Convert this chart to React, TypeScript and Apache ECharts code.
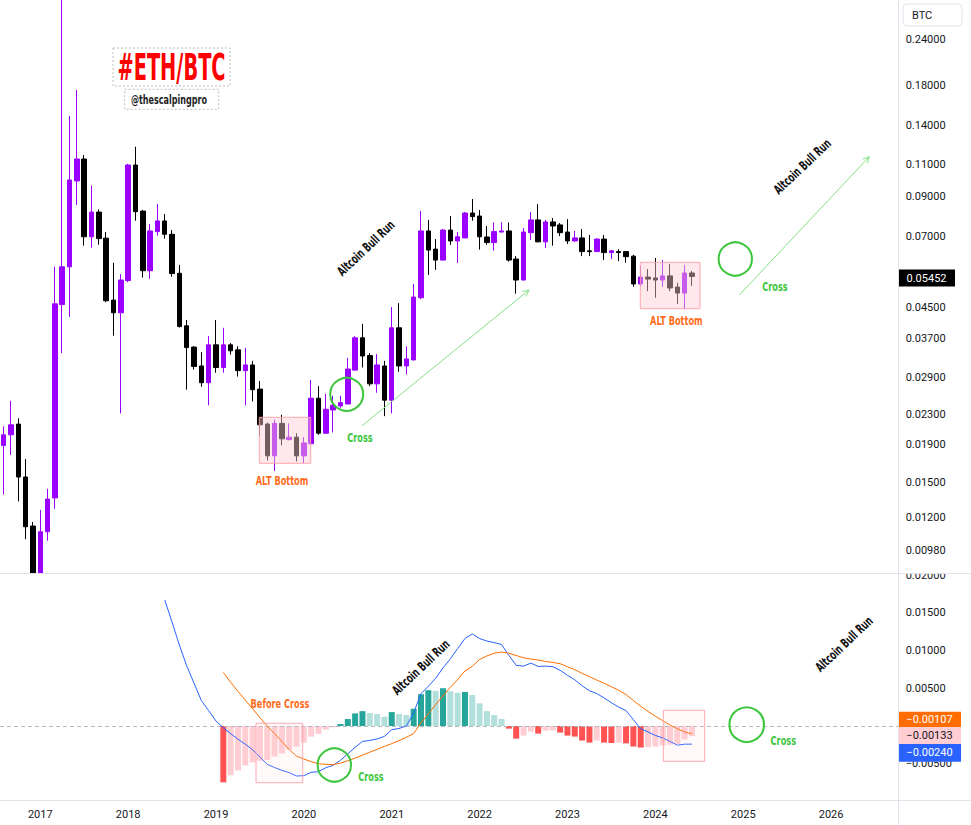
import React, { useEffect, useRef } from 'react';
import * as echarts from 'echarts';

// ---------- DATA ----------
// Monthly categories, Aug 2016 .. Oct 2026 (123 slots; candles exist up to Jun 2024)
const months: string[] = Array.from({ length: 123 }, (_, k) => {
  const t = 7 + k;
  const y = 2016 + Math.floor(t / 12);
  const m = (t % 12) + 1;
  return `${y}-${String(m).padStart(2, '0')}`;
});

// ETH/BTC monthly candles: [open, close, low, high]
const candles: number[][] = [
  [0.0189, 0.0202, 0.0139, 0.0213],
  [0.0202, 0.0215, 0.0178, 0.025],
  [0.0216, 0.0155, 0.0133, 0.0224],
  [0.0155, 0.01135, 0.0105, 0.01735],
  [0.0114, 0.0083, 0.0072, 0.0117],
  [0.0083, 0.011, 0.0075, 0.0126],
  [0.011, 0.0135, 0.0104, 0.0144],
  [0.0136, 0.0459, 0.0127, 0.0579],
  [0.0457, 0.0579, 0.0337, 0.34],
  [0.0579, 0.0998, 0.0423, 0.149],
  [0.0992, 0.1138, 0.0853, 0.1754],
  [0.1138, 0.0699, 0.0661, 0.1167],
  [0.0699, 0.0816, 0.0653, 0.0963],
  [0.0816, 0.0691, 0.0665, 0.083],
  [0.0693, 0.0468, 0.0464, 0.072],
  [0.047, 0.0434, 0.0376, 0.0594],
  [0.0434, 0.0533, 0.0231, 0.0553],
  [0.0531, 0.1096, 0.0526, 0.1104],
  [0.1096, 0.0818, 0.0773, 0.1229],
  [0.0821, 0.0565, 0.0541, 0.0827],
  [0.0565, 0.0725, 0.0537, 0.0757],
  [0.0722, 0.0772, 0.0704, 0.0858],
  [0.0772, 0.071, 0.0691, 0.0806],
  [0.071, 0.0555, 0.0544, 0.0729],
  [0.0556, 0.0398, 0.0396, 0.0586],
  [0.04, 0.0349, 0.0268, 0.0415],
  [0.035, 0.031, 0.0304, 0.0352],
  [0.0311, 0.028, 0.0273, 0.0339],
  [0.028, 0.0355, 0.0243, 0.0375],
  [0.0355, 0.0308, 0.0298, 0.0415],
  [0.0308, 0.0355, 0.0298, 0.0395],
  [0.0355, 0.0342, 0.0334, 0.0359],
  [0.0344, 0.0302, 0.0291, 0.0352],
  [0.0302, 0.0313, 0.0243, 0.0348],
  [0.0313, 0.0268, 0.0249, 0.0321],
  [0.0269, 0.0215, 0.02, 0.0283],
  [0.0216, 0.0177, 0.0172, 0.0218],
  [0.0177, 0.0217, 0.0161, 0.0222],
  [0.0217, 0.0197, 0.0189, 0.0229],
  [0.0196, 0.0199, 0.0195, 0.0217],
  [0.0199, 0.0177, 0.0171, 0.0204],
  [0.0177, 0.0192, 0.0169, 0.0199],
  [0.0191, 0.0254, 0.019, 0.0285],
  [0.0254, 0.0204, 0.0202, 0.0274],
  [0.0204, 0.0237, 0.0203, 0.0261],
  [0.0236, 0.0243, 0.0205, 0.0258],
  [0.0242, 0.0247, 0.0239, 0.0258],
  [0.0245, 0.0305, 0.0245, 0.0327],
  [0.0303, 0.0371, 0.0302, 0.0375],
  [0.0371, 0.0331, 0.0308, 0.0405],
  [0.0332, 0.0278, 0.0274, 0.0337],
  [0.0278, 0.0313, 0.0263, 0.0335],
  [0.0311, 0.0251, 0.0227, 0.0321],
  [0.0251, 0.0395, 0.0231, 0.045],
  [0.0395, 0.0311, 0.03, 0.0461],
  [0.0311, 0.0325, 0.0295, 0.0352],
  [0.0323, 0.0479, 0.0322, 0.052],
  [0.0477, 0.0725, 0.0473, 0.0822],
  [0.0725, 0.0643, 0.055, 0.0777],
  [0.0647, 0.0604, 0.0568, 0.0689],
  [0.0604, 0.0729, 0.0603, 0.0734],
  [0.0729, 0.0681, 0.0664, 0.0796],
  [0.0681, 0.0699, 0.0593, 0.072],
  [0.0694, 0.0811, 0.0693, 0.0816],
  [0.0811, 0.0793, 0.0773, 0.0886],
  [0.0796, 0.0699, 0.0645, 0.0827],
  [0.0698, 0.0674, 0.0665, 0.0748],
  [0.0674, 0.0722, 0.0641, 0.0765],
  [0.072, 0.0725, 0.0719, 0.0766],
  [0.0725, 0.0604, 0.0598, 0.0765],
  [0.0608, 0.0533, 0.0489, 0.0619],
  [0.0533, 0.072, 0.0532, 0.0738],
  [0.0717, 0.0777, 0.0685, 0.0816],
  [0.0777, 0.0677, 0.0676, 0.0858],
  [0.0677, 0.0767, 0.0651, 0.0777],
  [0.0767, 0.0748, 0.0661, 0.0786],
  [0.0753, 0.0717, 0.0702, 0.0762],
  [0.072, 0.0681, 0.0668, 0.0781],
  [0.0681, 0.0694, 0.0677, 0.0725],
  [0.0694, 0.0637, 0.0619, 0.0734],
  [0.064, 0.0637, 0.0619, 0.0707],
  [0.0637, 0.0689, 0.0635, 0.0692],
  [0.0689, 0.0633, 0.0604, 0.0707],
  [0.0633, 0.064, 0.0608, 0.0643],
  [0.0637, 0.0633, 0.06, 0.0647],
  [0.0637, 0.0617, 0.0594, 0.0639],
  [0.0619, 0.052, 0.0511, 0.0624],
  [0.052, 0.0543, 0.0511, 0.0582],
  [0.0543, 0.0536, 0.0497, 0.0571],
  [0.054, 0.0533, 0.0477, 0.0612],
  [0.0533, 0.0547, 0.0511, 0.0604],
  [0.0547, 0.0507, 0.0497, 0.059],
  [0.051, 0.0491, 0.0459, 0.0524],
  [0.0491, 0.0557, 0.0444, 0.0586],
  [0.0557, 0.05452, 0.0514, 0.0564],
];

// MACD histogram (starts Feb 2019)
const histStart = 30;
const histValues: number[] = [
  -0.00746, -0.00654, -0.00588, -0.00522, -0.00483, -0.0046, -0.00452, -0.00404,
  -0.00364, -0.00316, -0.00272, -0.0022, -0.0014, -0.00105, -0.00048, -0.00018,
  0.00026, 0.00092, 0.00167, 0.00197, 0.00171, 0.00158, 0.00123, 0.00184,
  0.00158, 0.00145, 0.00228, 0.00421, 0.00474, 0.00465, 0.005, 0.0046,
  0.0044, 0.0045, 0.0041, 0.003, 0.00197, 0.00145, 0.00092,
  -0.00035, -0.00167, -0.00127, -0.00075, -0.00101, -0.00062, -0.0006, -0.00088,
  -0.00127, -0.0014, -0.00193, -0.0022, -0.00193, -0.0022, -0.00226, -0.0022,
  -0.0023, -0.00272, -0.00285, -0.0028, -0.00272, -0.00259, -0.00246, -0.00237,
  -0.0018, -0.00133,
];

// MACD line (starts Jun 2018)
const macdStart = 22;
const macdValues: number[] = [
  0.0167, 0.01375, 0.01072, 0.00796, 0.00566, 0.00336, 0.00203, 0.00066,
  -0.00024, -0.00101, -0.00175, -0.00241, -0.00314, -0.00412, -0.00508, -0.0055,
  -0.00588, -0.00618, -0.00662, -0.00658, -0.00614, -0.00605, -0.00553, -0.0052,
  -0.00454, -0.00368, -0.00283, -0.00204, -0.00191, -0.00171, -0.00138, -0.00049,
  -0.00033, 0.0, 0.00178, 0.00428, 0.00526, 0.00632, 0.0077, 0.00888,
  0.01026, 0.01158, 0.0122, 0.01158, 0.01125, 0.01105, 0.01079, 0.00934,
  0.00803, 0.00793, 0.00833, 0.00789, 0.00793, 0.00786, 0.00737, 0.00671,
  0.00612, 0.00533, 0.00467, 0.0043, 0.00372, 0.00308, 0.0025, 0.00204,
  0.00084, -0.00036, -0.00079, -0.00125, -0.00158, -0.00204, -0.00254, -0.00241,
  -0.0024,
];

// Signal line (starts Feb 2019)
const signalStart = 30;
const signalValues: number[] = [
  0.0071, 0.00579, 0.00459, 0.00343, 0.00229, 0.00112, -0.00003, -0.001,
  -0.00205, -0.00313, -0.00399, -0.00438, -0.00472, -0.005, -0.00508, -0.00512,
  -0.00492, -0.0046, -0.00425, -0.00387, -0.00347, -0.00309, -0.00271, -0.00233,
  -0.00193, -0.0015, -0.00099, 0.00041, 0.00162, 0.00283, 0.00399, 0.00513,
  0.00614, 0.00729, 0.0079, 0.00882, 0.00928, 0.00964, 0.0098, 0.00963,
  0.00934, 0.00904, 0.00886, 0.00874, 0.00855, 0.00842, 0.00825, 0.00784,
  0.00747, 0.00696, 0.00655, 0.00609, 0.00566, 0.0052, 0.00474, 0.00416,
  0.00337, 0.00262, 0.00193, 0.00129, 0.00071, 0.00014, -0.00036, -0.00079,
  -0.00105,
];

const priceTicks: number[] = [0.24, 0.18, 0.14, 0.11, 0.09, 0.07, 0.045, 0.037, 0.029, 0.023, 0.019, 0.015, 0.012, 0.0098];
const macdTicks: number[] = [0.02, 0.015, 0.01, 0.005, -0.005];

const lastPrice = 0.05452;
const lastSignal = -0.00107;
const lastHist = -0.00133;
const lastMacd = -0.0024;

// ---------- HELPERS ----------
const fmt = (v: number) => v.toFixed(5).replace('-', '\u2212');
const pad = (start: number, vals: any[]) => [...Array(start).fill('-'), ...vals];

const AXIS_FONT = 'Roboto, "Liberation Sans", sans-serif';
const ANN_FONT = '"DejaVu Sans", sans-serif';

const txt = (text: string, x: number, y: number, color: string, size = 13, sx = 0.63, rot = 0) => ({
  type: 'text',
  x,
  y,
  rotation: rot,
  scaleX: sx,
  z: 50,
  silent: true,
  style: {
    text,
    fill: color,
    font: `bold ${size}px ${ANN_FONT}`,
    textAlign: 'center',
    textVerticalAlign: 'middle',
  },
});

const arrow = (x1: number, y1: number, x2: number, y2: number, color: string) => {
  const a = Math.atan2(y2 - y1, x2 - x1);
  const L = 7;
  const w = 0.45;
  const p1 = [x2 - L * Math.cos(a - w), y2 - L * Math.sin(a - w)];
  const p2 = [x2 - L * Math.cos(a + w), y2 - L * Math.sin(a + w)];
  return [
    { type: 'line', z: 50, silent: true, shape: { x1, y1, x2, y2 }, style: { stroke: color, lineWidth: 1 } },
    { type: 'polyline', z: 50, silent: true, shape: { points: [p1, [x2, y2], p2] }, style: { stroke: color, fill: 'none', lineWidth: 1 } },
  ];
};

const circle = (cx: number, cy: number, r: number) => ({
  type: 'circle', z: 50, silent: true, shape: { cx, cy, r }, style: { fill: 'none', stroke: '#3CC63C', lineWidth: 2 },
});

const box = (x: number, y: number, w: number, h: number, fill: string) => ({
  type: 'rect', z: 40, silent: true, shape: { x, y, width: w, height: h },
  style: { fill, stroke: 'rgba(255,160,168,0.9)', lineWidth: 1 },
});

const valueTag = (text: string, y: number, h: number, bg: string, color: string, w = 63) => [
  { type: 'rect', z: 100, silent: true, shape: { x: 898, y, width: w, height: h }, style: { fill: bg } },
  {
    type: 'text', z: 101, silent: true, x: 898 + w / 2, y: y + h / 2,
    style: { text, fill: color, font: `11px ${AXIS_FONT}`, textAlign: 'center', textVerticalAlign: 'middle' },
  },
];

const GREEN = '#3CC63C';
const ORANGE = '#FF6B1A';
const ARROW = '#86E086';
const ROT = 0.76;

export default function App() {
  const ref = useRef<HTMLDivElement>(null);

  useEffect(() => {
    if (!ref.current) return;
    const chart = echarts.init(ref.current, null, { renderer: 'svg' });

    const histData = histValues.map((v, k) => {
      const prev = k > 0 ? histValues[k - 1] : null;
      let color: string;
      if (v >= 0) color = prev === null || v >= prev ? '#26A69A' : '#B2DFDB';
      else color = prev === null || v <= prev ? '#FF5252' : '#FFCDD2';
      return { value: v, itemStyle: { color } };
    });

    const gridLeft = -1.37;
    const gridWidth = 902;

    const graphic: any[] = [
      // title
      { type: 'rect', z: 50, silent: true, shape: { x: 113, y: 48, width: 117, height: 38 }, style: { fill: 'none', stroke: '#BDBDBD', lineWidth: 1, lineDash: [2, 2] } },
      txt('#ETH/BTC', 171.5, 66.5, '#FF0000', 38, 0.51),
      { type: 'rect', z: 50, silent: true, shape: { x: 124.7, y: 89.3, width: 94, height: 20 }, style: { fill: 'none', stroke: '#BDBDBD', lineWidth: 1, lineDash: [2, 2] } },
      txt('@thescalpingpro', 169, 99.5, '#1E1E1E', 13, 0.62),

      // top pane annotations
      box(259.3, 417.3, 51.4, 46, 'rgba(255,205,210,0.45)'),
      txt('ALT Bottom', 282, 480.5, ORANGE),
      box(640.3, 262.3, 59.7, 46.4, 'rgba(255,205,210,0.45)'),
      txt('ALT Bottom', 676.3, 321, ORANGE),
      circle(346.7, 394.3, 16.5),
      txt('Cross', 360, 438.3, GREEN),
      ...arrow(361.7, 426, 529, 290, ARROW),
      txt('Altcoin Bull Run', 366, 248.3, '#111111', 13, 0.63, ROT),
      circle(735.3, 259, 16.7),
      txt('Cross', 775, 286.7, GREEN),
      ...arrow(739.3, 295, 869.3, 156.7, ARROW),
      txt('Altcoin Bull Run', 802.5, 166.7, '#111111', 13, 0.63, ROT),

      // MACD pane annotations
      txt('Before Cross', 280, 703.5, ORANGE),
      box(256, 723.3, 46.7, 59.4, 'rgba(255,205,210,0.12)'),
      circle(334.3, 765, 16.7),
      txt('Cross', 371, 777.3, GREEN),
      txt('Altcoin Bull Run', 421, 667.5, '#111111', 13, 0.63, ROT),
      box(663.3, 710.3, 41.4, 51, 'rgba(255,205,210,0.12)'),
      circle(746.7, 724.7, 17.3),
      txt('Cross', 783.3, 740.7, GREEN),
      txt('Altcoin Bull Run', 844.2, 644.2, '#111111', 13, 0.63, ROT),

      // mask: price pane content does not spill into the MACD pane
      { type: 'rect', z: 99, silent: true, shape: { x: 0, y: 574, width: 110, height: 40 }, style: { fill: '#ffffff' } },
      // cover top half of the MACD pane's top label
      { type: 'rect', z: 99, silent: true, shape: { x: 899, y: 558, width: 72, height: 15.5 }, style: { fill: '#ffffff' } },

      // pane separators
      { type: 'line', z: 102, silent: true, shape: { x1: 898.5, y1: 0, x2: 898.5, y2: 825 }, style: { stroke: '#E0E3EB', lineWidth: 1 } },
      { type: 'line', z: 102, silent: true, shape: { x1: 0, y1: 573.5, x2: 971, y2: 573.5 }, style: { stroke: '#E0E3EB', lineWidth: 1 } },
      { type: 'line', z: 102, silent: true, shape: { x1: 0, y1: 800.5, x2: 971, y2: 800.5 }, style: { stroke: '#E0E3EB', lineWidth: 1 } },

      // currency box
      { type: 'rect', z: 100, silent: true, shape: { x: 903, y: 4, width: 59, height: 22, r: 4 }, style: { fill: '#ffffff', stroke: '#E0E3EB', lineWidth: 1 } },
      { type: 'text', z: 101, silent: true, x: 912, y: 15.5, style: { text: 'BTC', fill: '#131722', font: `11px ${AXIS_FONT}`, textAlign: 'left', textVerticalAlign: 'middle' } },

      // last value tags
      ...valueTag(lastPrice.toFixed(5), 269.5, 17, '#000000', '#ffffff', 57),
      ...valueTag(fmt(lastSignal), 711.7, 15.6, '#FF6D00', '#ffffff'),
      ...valueTag(fmt(lastHist), 727.3, 16.7, '#FFCDD2', '#131722'),
      ...valueTag(fmt(lastMacd), 744, 17.7, '#2962FF', '#ffffff'),
    ];

    const option: any = {
      animation: false,
      backgroundColor: '#ffffff',
      grid: [
        { left: gridLeft, top: 0, width: gridWidth, height: 573 },
        { left: gridLeft, top: 573, width: gridWidth, height: 228 },
      ],
      xAxis: [
        {
          type: 'category', gridIndex: 0, data: months, boundaryGap: true,
          axisLine: { show: false }, axisTick: { show: false }, axisLabel: { show: false }, splitLine: { show: false },
        },
        {
          type: 'category', gridIndex: 1, data: months, boundaryGap: true,
          axisLine: { show: false }, axisTick: { show: false }, splitLine: { show: false },
          axisLabel: {
            interval: (_i: number, v: string) => v.endsWith('-01'),
            formatter: (v: string) => v.slice(0, 4),
            color: '#131722', fontSize: 11, fontFamily: AXIS_FONT, margin: 8,
          },
        },
      ],
      yAxis: [
        {
          type: 'log', gridIndex: 0, position: 'right', logBase: 10,
          min: 0.0084925, max: 0.3084,
          axisLine: { show: false }, axisTick: { show: false }, splitLine: { show: false },
          axisLabel: {
            customValues: priceTicks,
            formatter: (v: number) => Number(v).toFixed(5),
            color: '#131722', fontSize: 11, fontFamily: AXIS_FONT, margin: 5,
          },
        },
        {
          type: 'value', gridIndex: 1, position: 'right',
          min: -0.009934, max: 0.020265,
          axisLine: { show: false }, axisTick: { show: false }, splitLine: { show: false },
          axisLabel: {
            customValues: macdTicks,
            formatter: (v: number) => fmt(Number(v)),
            color: '#131722', fontSize: 11, fontFamily: AXIS_FONT, margin: 5,
          },
        },
      ],
      series: [
        {
          type: 'candlestick', xAxisIndex: 0, yAxisIndex: 0, data: candles, barWidth: 5, silent: true, clip: true,
          itemStyle: { color: '#9900FF', color0: '#000000', borderColor: '#9900FF', borderColor0: '#000000', borderWidth: 1 },
        },
        {
          type: 'bar', xAxisIndex: 1, yAxisIndex: 1, data: pad(histStart, histData), barWidth: 6, silent: true,
          markLine: {
            silent: true, symbol: 'none', label: { show: false },
            lineStyle: { color: '#B2B5BE', type: [4, 3], width: 1 },
            data: [{ yAxis: 0 }],
          },
        },
        {
          type: 'line', xAxisIndex: 1, yAxisIndex: 1, data: pad(macdStart, macdValues), showSymbol: false, symbol: 'none',
          silent: true, lineStyle: { color: '#2962FF', width: 1 }, itemStyle: { color: '#2962FF' }, z: 5,
        },
        {
          type: 'line', xAxisIndex: 1, yAxisIndex: 1, data: pad(signalStart, signalValues), showSymbol: false, symbol: 'none',
          silent: true, lineStyle: { color: '#FF6D00', width: 1 }, itemStyle: { color: '#FF6D00' }, z: 5,
        },
      ],
      graphic,
    };

    chart.setOption(option);
    return () => chart.dispose();
  }, []);

  return (
    <div
      ref={ref}
      style={{ position: 'absolute', left: 0, top: 0, width: 971, height: 825, background: '#ffffff' }}
    />
  );
}
